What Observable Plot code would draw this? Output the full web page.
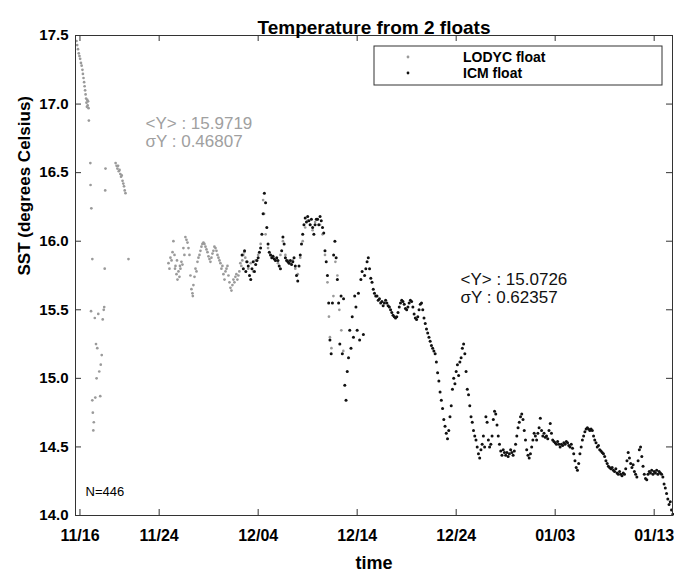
<!DOCTYPE html>
<html><head><meta charset="utf-8">
<script src="https://cdn.jsdelivr.net/npm/d3@7"></script>
<script src="https://cdn.jsdelivr.net/npm/@observablehq/plot@0.6"></script>
<style>
body{margin:0;background:#fff}
svg{display:block}
</style>
</head><body><div id="chart"></div>
<script>
// ---------- data ----------
const titleText = "Temperature from 2 floats";
const xLabel = "time";
const yLabel = "SST (degrees Celsius)";
const tickDays = [0, 8, 18, 28, 38, 48, 58];            // days since 11/16
const tickLabels = ["11/16", "11/24", "12/04", "12/14", "12/24", "01/03", "01/13"];
const yTicks = [14, 14.5, 15, 15.5, 16, 16.5, 17, 17.5];
const yTickLabels = ["14.0", "14.5", "15.0", "15.5", "16.0", "16.5", "17.0", "17.5"];
const seriesNames = ["LODYC float", "ICM float"];
const statsLodyc = ["<Y> : 15.9719", "σY : 0.46807"];
const statsIcm = ["<Y> : 15.0726", "σY : 0.62357"];
const countLabel = "N=446";

// LODYC float (grey): day since 11/16 and temperature
const lodycDay = [
 -0.35,-0.28,-0.2,-0.12,-0.05,0.02,0.1,0.17,0.25,0.3,0.36,0.42,0.47,0.52,0.57,0.62,0.66,0.7,0.74,0.78,0.82,0.87,
 0.9,1.05,1.07,1.15,1.25,1.12,1.25,1.3,1.35,1.4,1.5,1.55,1.62,1.68,1.75,1.85,1.95,2.05,2.1,2.2,2.3,2.4,2.5,2.55,2.58,2.45,
 3.6,3.7,3.78,3.85,3.92,4.0,4.08,4.15,4.22,4.3,4.38,4.45,4.52,4.6,4.9,
 8.94,9.04,9.14,9.25,9.35,9.44,9.55,9.6,9.65,9.75,9.8,9.85,9.95,10.05,10.1,10.15,10.25,10.35,10.45,10.55,10.65,10.76,10.86,10.96,
 11.06,11.16,11.26,11.36,11.4,11.46,11.57,11.67,11.77,11.87,11.97,12.07,12.17,12.27,12.37,12.47,12.57,12.68,12.78,12.88,12.98,
 13.08,13.18,13.28,13.38,13.48,13.58,13.69,13.79,13.89,13.99,14.09,14.19,14.29,14.39,14.49,14.6,14.7,14.8,14.9,15.0,15.1,15.2,
 15.3,15.4,15.5,15.6,15.7,15.8,15.9,16.0,16.1,16.2,16.3,16.4,16.5,16.6,16.7,16.8,
 17.0,17.25,17.5,17.75,18.0,18.25,18.5,18.6,18.75,19.0,19.25,19.5,19.75,20.0,20.25,20.5,20.75,21.0,21.25,21.5,21.75,22.0,
 22.25,22.5,22.75,23.0,23.25,23.5,23.75,24.0,24.25,24.5,24.75,25.0,25.15,25.25,25.4,25.6,25.8,26.0,26.2,26.4,26.6
];
const lodycTemp = [
 17.46,17.43,17.40,17.37,17.35,17.33,17.30,17.28,17.25,17.22,17.19,17.16,17.13,17.10,17.07,17.04,17.01,16.98,17.03,16.99,17.02,16.97,
 16.88,16.57,16.41,16.24,15.87,15.49,14.84,14.75,14.62,14.68,15.44,14.86,15.25,15.00,15.22,15.47,15.05,14.87,15.10,15.17,15.43,15.50,15.80,16.37,16.53,15.52,
 16.57,16.55,16.53,16.55,16.51,16.52,16.49,16.47,16.48,16.44,16.42,16.40,16.37,16.35,15.87,
 15.84,15.80,15.88,15.86,15.92,16.00,15.90,15.80,15.82,15.76,15.86,15.72,15.78,15.74,15.82,15.80,15.85,15.83,15.95,15.90,16.03,16.01,15.99,15.95,
 15.90,15.75,15.65,15.62,15.60,15.68,15.74,15.80,15.78,15.85,15.88,15.90,15.93,15.96,15.98,15.99,15.98,15.96,15.94,15.92,15.89,
 15.87,15.85,15.88,15.91,15.93,15.96,15.95,15.93,15.90,15.88,15.86,15.84,15.80,15.82,15.76,15.72,15.78,15.80,15.82,15.75,15.70,15.66,
 15.64,15.68,15.72,15.70,15.74,15.76,15.72,15.75,15.78,15.84,15.82,15.86,15.90,15.92,15.88,15.85,
 15.80,15.84,15.78,15.86,15.90,15.98,16.30,16.20,16.05,15.95,15.90,15.88,15.86,15.84,15.90,16.00,15.90,15.86,15.84,15.86,15.80,15.76,
 15.88,16.00,16.10,16.15,16.12,16.08,16.14,16.16,16.12,16.05,15.90,15.70,15.45,15.30,15.22,15.60,15.85,15.75,15.50,15.35,15.20
];

// ICM float (black): sampled every 3 hours from day 16.375
const icmStartDay = 16.375;
const icmStepDays = 0.125;
const icmTemp = [
 15.90,15.80,15.93,15.78,15.85,
 15.82,15.75,15.72,15.80,15.85,15.78,15.83,15.86,
 15.88,15.92,15.95,16.05,16.20,16.35,16.28,16.10,
 15.98,15.92,15.90,15.88,15.89,15.87,15.86,15.88,
 15.86,15.82,15.80,15.93,16.03,15.98,15.88,15.86,
 15.85,15.84,15.86,15.83,15.85,15.88,15.82,15.75,
 15.71,15.82,15.90,15.98,16.05,16.12,16.17,16.14,
 16.18,16.15,16.12,16.16,16.10,16.05,16.12,16.16,
 16.16,16.12,16.18,16.15,16.10,16.06,15.93,15.85,
 15.75,15.55,15.28,15.18,15.55,15.90,16.00,15.88,
 15.72,15.55,15.25,15.60,15.18,15.58,14.95,14.84,
 15.05,15.15,15.35,15.22,15.45,15.30,15.60,15.52,
 15.35,15.62,15.28,15.72,15.78,15.32,15.75,15.80,
 15.85,15.88,15.80,15.73,15.70,15.65,15.62,15.60,
 15.60,15.57,15.58,15.55,15.56,15.53,15.55,15.57,
 15.55,15.53,15.52,15.50,15.48,15.46,15.45,15.44,
 15.45,15.48,15.52,15.55,15.57,15.56,15.54,15.51,
 15.50,15.52,15.55,15.57,15.56,15.52,15.47,15.44,
 15.43,15.45,15.50,15.54,15.55,15.50,15.44,15.40,
 15.36,15.33,15.30,15.27,15.24,15.22,15.20,15.18,
 15.12,15.04,14.98,14.90,14.84,14.78,14.70,14.65,
 14.60,14.56,14.62,14.72,14.80,14.92,15.00,14.96,
 15.05,15.10,15.02,15.12,15.15,15.22,15.25,15.18,
 15.05,14.92,14.88,14.80,14.72,14.68,14.62,14.58,
 14.55,14.50,14.45,14.42,14.48,14.52,14.58,14.50,
 14.72,14.68,14.55,14.50,14.52,14.58,14.70,14.76,
 14.74,14.66,14.58,14.52,14.47,14.44,14.48,14.46,
 14.44,14.46,14.43,14.45,14.48,14.46,14.44,14.47,
 14.52,14.58,14.64,14.68,14.72,14.74,14.70,14.62,
 14.55,14.48,14.44,14.42,14.45,14.50,14.55,14.60,
 14.58,14.55,14.60,14.64,14.71,14.62,14.58,14.60,
 14.57,14.58,14.56,14.62,14.67,14.60,14.55,14.54,
 14.53,14.52,14.54,14.52,14.50,14.52,14.51,14.53,
 14.52,14.54,14.53,14.51,14.50,14.52,14.49,14.45,
 14.40,14.35,14.33,14.38,14.45,14.50,14.55,14.58,
 14.61,14.63,14.64,14.63,14.62,14.63,14.62,14.58,
 14.55,14.53,14.50,14.51,14.48,14.47,14.46,14.45,
 14.43,14.40,14.38,14.36,14.35,14.34,14.35,14.33,
 14.32,14.34,14.31,14.30,14.32,14.30,14.29,14.31,
 14.30,14.34,14.40,14.46,14.42,14.38,14.35,14.37,
 14.32,14.30,14.28,14.40,14.48,14.50,14.43,14.36,
 14.30,14.27,14.26,14.30,14.32,14.31,14.33,14.30,
 14.32,14.31,14.33,14.30,14.32,14.31,14.30,14.28,
 14.23,14.20,14.16,14.12,14.08,14.10,14.04,14.01
];

// ---------- chart ----------
const W = 674, H = 578, mL = 75, mR = 2, mT = 35, mB = 63;
const fw = W - mL - mR, fh = H - mT - mB;
const font = "'Liberation Sans', Arial, Helvetica, sans-serif";
const lodyc = lodycDay.map((d, i) => ({day: d, temp: lodycTemp[i]}));
const icm = icmTemp.map((t, i) => ({day: icmStartDay + i * icmStepDays, temp: t}));
const axisColor = "#333";

const chart = Plot.plot({
  width: W, height: H,
  marginLeft: mL, marginRight: mR, marginTop: mT, marginBottom: mB,
  style: {fontFamily: font, background: "#fff", color: "#000", overflow: "visible"},
  x: {domain: [-0.45, 59.85]},
  y: {domain: [14, 17.5]},
  marks: [
    Plot.dot(lodyc, {x: "day", y: "temp", r: 1.35, fill: "#9a9a9a", stroke: null}),
    Plot.dot(icm, {x: "day", y: "temp", r: 1.5, fill: "#111", stroke: null}),
    Plot.frame({stroke: axisColor}),
    Plot.tickX(tickDays, {x: d => d, insetTop: fh - 6, stroke: axisColor}),
    Plot.tickX(tickDays, {x: d => d, insetBottom: fh - 6, stroke: axisColor}),
    Plot.tickY(yTicks, {y: d => d, insetRight: fw - 6, stroke: axisColor}),
    Plot.tickY(yTicks, {y: d => d, insetLeft: fw - 6, stroke: axisColor}),
    Plot.axisX({ticks: tickDays, tickFormat: d => tickLabels[tickDays.indexOf(d)], tickSize: 0, tickPadding: 14,
      fontSize: 16, fontWeight: "bold", label: null}),
    Plot.axisY({ticks: yTicks, tickFormat: d => yTickLabels[yTicks.indexOf(d)], tickSize: 0, tickPadding: 7,
      fontSize: 15, fontWeight: "bold", label: null}),
    Plot.text([titleText], {text: d => d, frameAnchor: "top", dy: -15, fontSize: 19, fontWeight: "bold"}),
    Plot.text([xLabel], {text: d => d, frameAnchor: "bottom", dy: 53, fontSize: 18, fontWeight: "bold"}),
    Plot.text([yLabel], {text: d => d, frameAnchor: "left", dx: -51, rotate: -90, fontSize: 17, fontWeight: "bold"}),
    Plot.text([countLabel], {text: d => d, frameAnchor: "bottom-left", textAnchor: "start", dx: 10, dy: -20, fontSize: 13}),
    Plot.text([statsLodyc[0]], {text: d => d, frameAnchor: "top-left", textAnchor: "start", dx: 70, dy: 81, fontSize: 17, fill: "#a0a0a0"}),
    Plot.text([statsLodyc[1]], {text: d => d, frameAnchor: "top-left", textAnchor: "start", dx: 70, dy: 99, fontSize: 17, fill: "#a0a0a0"}),
    Plot.text([statsIcm[0]], {text: d => d, frameAnchor: "top-left", textAnchor: "start", dx: 385, dy: 237, fontSize: 17, fill: "#111"}),
    Plot.text([statsIcm[1]], {text: d => d, frameAnchor: "top-left", textAnchor: "start", dx: 385, dy: 255, fontSize: 17, fill: "#111"})
  ]
});

// legend box inside the plot area (upper right)
const svg = d3.select(chart);
const lg = svg.append("g").attr("font-family", font).attr("text-anchor", "start");
lg.append("rect").attr("x", 374).attr("y", 46).attr("width", 288).attr("height", 39)
  .attr("fill", "#fff").attr("stroke", axisColor);
const legendColors = ["#9a9a9a", "#111"];
seriesNames.forEach((name, i) => {
  const cy = 57 + i * 16;
  lg.append("circle").attr("cx", 408).attr("cy", cy).attr("r", 1.4).attr("fill", legendColors[i]);
  lg.append("text").attr("x", 463).attr("y", cy).attr("dy", "0.35em").attr("text-anchor", "start")
    .attr("font-size", 14).attr("font-weight", "bold").attr("fill", "#000").text(name);
});

document.getElementById("chart").appendChild(chart);
</script>
</body></html>
